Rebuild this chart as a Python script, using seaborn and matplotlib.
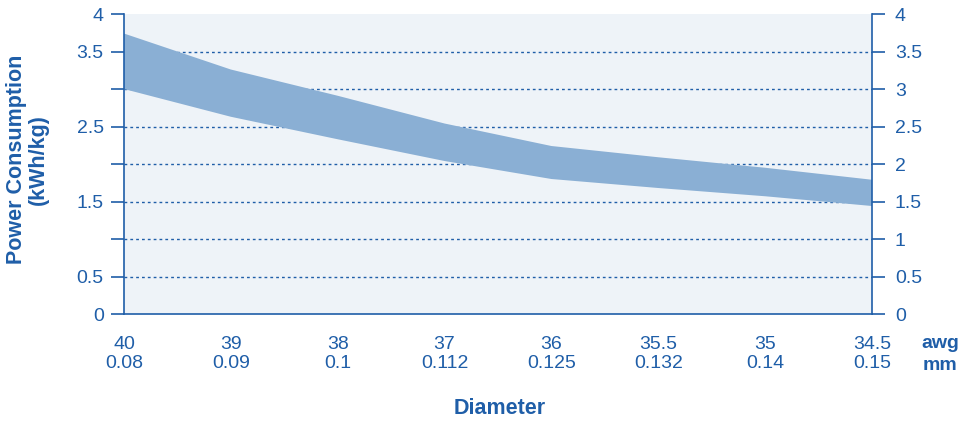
import matplotlib
matplotlib.use("Agg")
import matplotlib.pyplot as plt
import seaborn as sns
import pandas as pd
import numpy as np

awg = ["40", "39", "38", "37", "36", "35.5", "35", "34.5"]
mm = ["0.08", "0.09", "0.1", "0.112", "0.125", "0.132", "0.14", "0.15"]
upper = [3.74, 3.26, 2.91, 2.54, 2.24, 2.09, 1.95, 1.79]
lower = [3.00, 2.63, 2.33, 2.04, 1.80, 1.68, 1.57, 1.44]
yticks = [0, 0.5, 1, 1.5, 2, 2.5, 3, 3.5, 4]
left_labels = ["0", "0.5", "", "1.5", "", "2.5", "", "3.5", "4"]
right_labels = ["0", "0.5", "1", "1.5", "2", "2.5", "3", "3.5", "4"]

BLUE = "#1f5ea8"
BAND = "#8aafd4"
BG = "#eef3f8"
TICK_FS = 14
BOLD_FS = 15.5

sns.set_theme(style="white")
plt.rcParams["font.family"] = ["Liberation Sans", "DejaVu Sans"]

pos = list(range(len(awg)))
df = pd.DataFrame({
    "pos": pos + pos,
    "value": upper + lower,
})

fig = plt.figure(figsize=(9.67, 4.22), dpi=100)
ax = fig.add_axes([0.1282, 0.2559, 0.7736, 0.7109])
ax.set_facecolor(BG)

for y in yticks[1:-1]:
    ax.axhline(y, color=BLUE, lw=1.0, ls=(0, (2, 2.2)), zorder=1)

sns.lineplot(data=df, x="pos", y="value", ax=ax,
             estimator="mean", errorbar=lambda v: (v.min(), v.max()),
             lw=0, color=BAND,
             err_kws={"alpha": 1, "facecolor": BAND, "edgecolor": "none", "zorder": 2})

ax.set_xlim(0, len(awg) - 1)
ax.set_ylim(0, 4)
ax.set_xticks(pos)
ax.set_xticklabels([f"{a}\n{m}" for a, m in zip(awg, mm)], linespacing=1.2)
ax.set_yticks(yticks)
ax.set_yticklabels(left_labels)

for s in ["top", "right"]:
    ax.spines[s].set_visible(False)
for s in ["left", "bottom"]:
    ax.spines[s].set_color(BLUE)
    ax.spines[s].set_linewidth(1.2)

ax.tick_params(axis="both", colors=BLUE, labelcolor=BLUE, labelsize=TICK_FS,
               length=9.5, width=1.2, direction="out")
ax.tick_params(axis="y", pad=5)
ax.tick_params(axis="x", pad=6)

ax2 = ax.twinx()
ax2.set_ylim(0, 4)
ax2.set_yticks(yticks)
ax2.set_yticklabels(right_labels)
for s in ["top", "left", "bottom"]:
    ax2.spines[s].set_visible(False)
ax2.spines["right"].set_color(BLUE)
ax2.spines["right"].set_linewidth(1.2)
ax2.tick_params(axis="y", colors=BLUE, labelcolor=BLUE, labelsize=TICK_FS,
                length=9.5, width=1.2, direction="out", pad=7)

ax.set_xlabel("")
ax.set_ylabel("")
fig.text(0.0285, 0.623, "Power Consumption\n(kWh/kg)", rotation=90, ha="center", va="center",
         fontsize=BOLD_FS, fontweight="bold", color=BLUE, linespacing=1.05)
fig.text(0.517, 0.033, "Diameter", ha="center", va="center",
         fontsize=BOLD_FS, fontweight="bold", color=BLUE)
fig.text(0.972, 0.187, "awg", ha="center", va="center",
         fontsize=TICK_FS, fontweight="bold", color=BLUE)
fig.text(0.972, 0.133, "mm", ha="center", va="center",
         fontsize=TICK_FS, fontweight="bold", color=BLUE)

fig.savefig("out.png", dpi=100, facecolor="white")
